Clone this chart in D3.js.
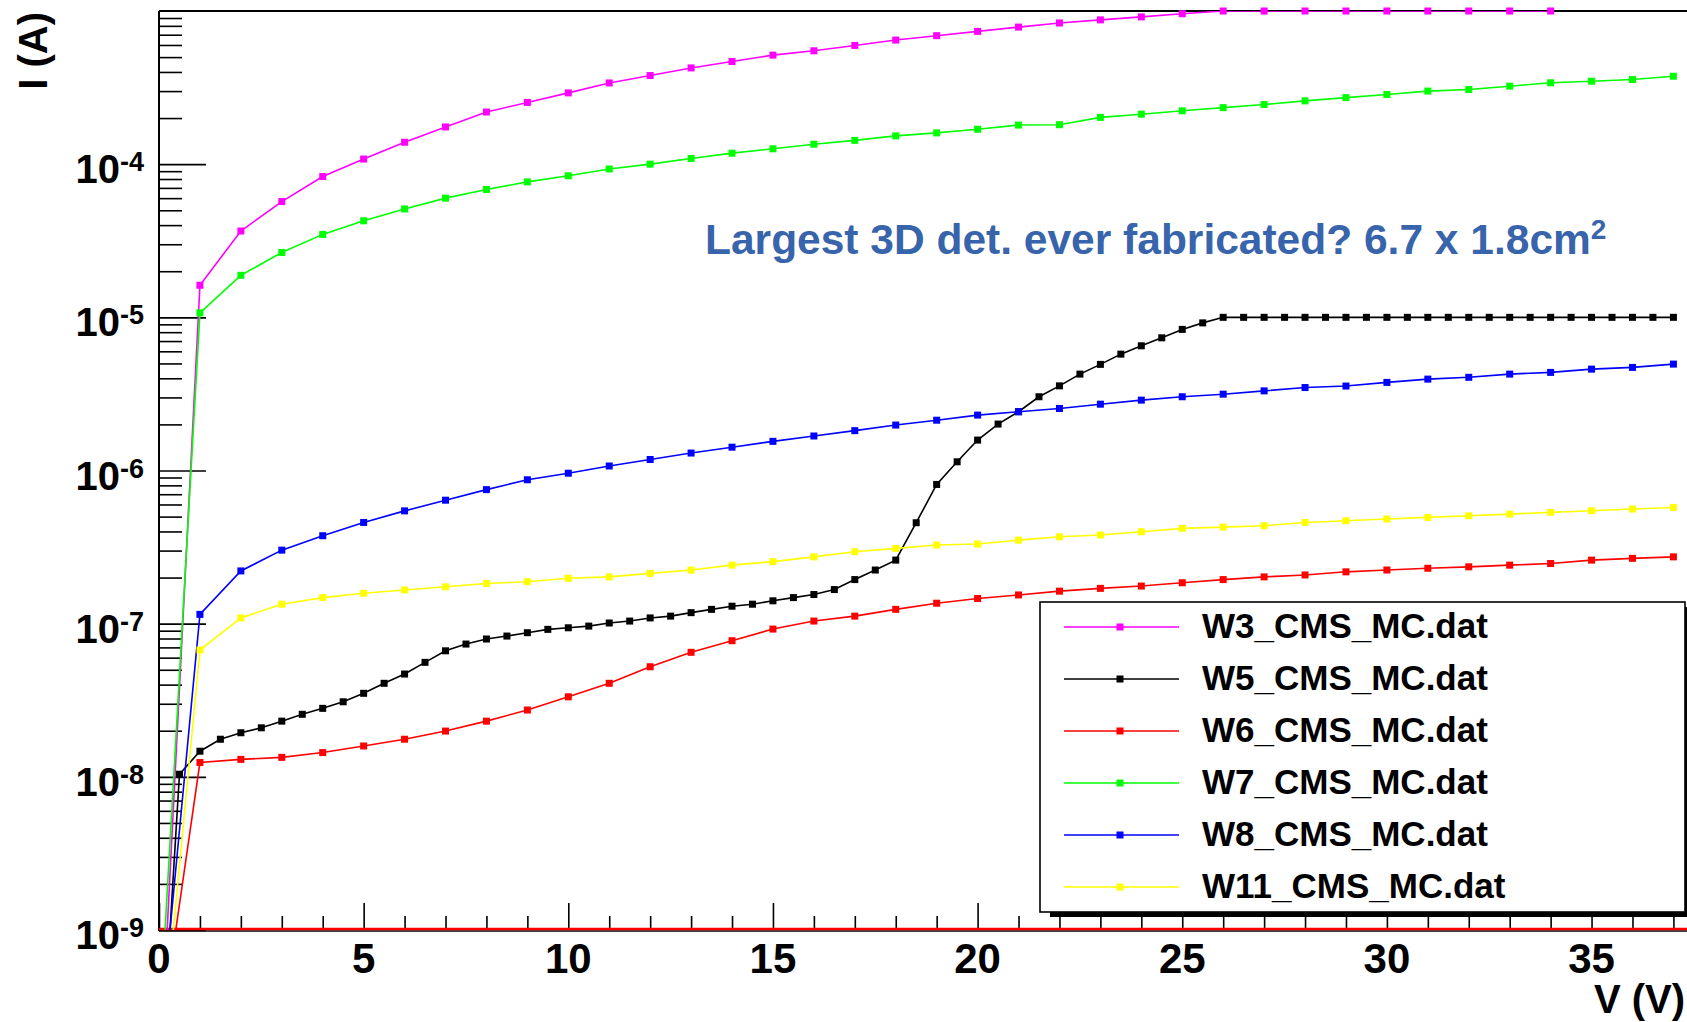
<!DOCTYPE html>
<html>
<head>
<meta charset="utf-8">
<script src="https://cdn.jsdelivr.net/npm/d3@7"></script>
<style>
body { margin: 0; background: #fff; }
text { font-family: "Liberation Sans", Arial, Helvetica, sans-serif; font-weight: bold; }
</style>
</head>
<body>
<script>
// voltage grids (V)
var volts = [0,1,2,3,4,5,6,7,8,9,10,11,12,13,14,15,16,17,18,19,20,21,22,23,24,25,26,27,28,29,30,31,32,33,34,35,36,37];
var voltsW3 = [0,1,2,3,4,5,6,7,8,9,10,11,12,13,14,15,16,17,18,19,20,21,22,23,24,25,26,27,28,29,30,31,32,33,34];
var voltsW5 = [0,0.5,1,1.5,2,2.5,3,3.5,4,4.5,5,5.5,6,6.5,7,7.5,8,8.5,9,9.5,10,10.5,11,11.5,12,12.5,13,13.5,14,14.5,
  15,15.5,16,16.5,17,17.5,18,18.5,19,19.5,20,20.5,21,21.5,22,22.5,23,23.5,24,24.5,25,25.5,26,26.5,27,27.5,28,28.5,
  29,29.5,30,30.5,31,31.5,32,32.5,33,33.5,34,34.5,35,35.5,36,36.5,37];

// currents (A)
var iW3 = [8.9e-11,1.62e-5,3.66e-5,5.7e-5,8.3e-5,1.08e-4,1.39e-4,1.75e-4,2.19e-4,2.53e-4,2.92e-4,3.39e-4,3.79e-4,
  4.25e-4,4.68e-4,5.15e-4,5.5e-4,5.96e-4,6.46e-4,6.9e-4,7.36e-4,7.85e-4,8.35e-4,8.75e-4,9.15e-4,9.6e-4,
  1e-3,1e-3,1e-3,1e-3,1e-3,1e-3,1e-3,1e-3,1e-3];
var iW5 = [6.6e-11,1.04e-8,1.47e-8,1.76e-8,1.94e-8,2.09e-8,2.31e-8,2.56e-8,2.8e-8,3.09e-8,3.51e-8,4.08e-8,4.69e-8,
  5.59e-8,6.65e-8,7.36e-8,7.94e-8,8.3e-8,8.73e-8,9.18e-8,9.4e-8,9.64e-8,1.01e-7,1.04e-7,1.09e-7,1.12e-7,1.18e-7,
  1.24e-7,1.30e-7,1.34e-7,1.41e-7,1.48e-7,1.55e-7,1.67e-7,1.94e-7,2.24e-7,2.6e-7,4.56e-7,8.11e-7,1.14e-6,1.58e-6,
  2.01e-6,2.42e-6,3.03e-6,3.57e-6,4.26e-6,4.93e-6,5.75e-6,6.52e-6,7.35e-6,8.34e-6,9.2e-6,
  1e-5,1e-5,1e-5,1e-5,1e-5,1e-5,1e-5,1e-5,1e-5,1e-5,1e-5,1e-5,1e-5,1e-5,1e-5,1e-5,1e-5,1e-5,1e-5,1e-5,1e-5,1e-5,1e-5];
var iW6 = [1.74e-10,1.24e-8,1.30e-8,1.34e-8,1.44e-8,1.59e-8,1.76e-8,1.99e-8,2.31e-8,2.73e-8,3.33e-8,4.08e-8,5.23e-8,
  6.5e-8,7.74e-8,9.22e-8,1.04e-7,1.12e-7,1.24e-7,1.36e-7,1.46e-7,1.54e-7,1.63e-7,1.70e-7,1.76e-7,1.85e-7,1.94e-7,
  2.02e-7,2.08e-7,2.18e-7,2.24e-7,2.3e-7,2.35e-7,2.41e-7,2.47e-7,2.6e-7,2.67e-7,2.73e-7];
var iW7 = [2.0e-10,1.07e-5,1.88e-5,2.65e-5,3.48e-5,4.27e-5,5.1e-5,6.0e-5,6.84e-5,7.66e-5,8.4e-5,9.3e-5,1.0e-4,
  1.09e-4,1.18e-4,1.26e-4,1.35e-4,1.43e-4,1.53e-4,1.6e-4,1.69e-4,1.8e-4,1.81e-4,2.02e-4,2.12e-4,2.23e-4,2.34e-4,
  2.45e-4,2.59e-4,2.72e-4,2.85e-4,3.0e-4,3.07e-4,3.23e-4,3.4e-4,3.48e-4,3.57e-4,3.75e-4];
var iW8 = [1.74e-10,1.15e-7,2.21e-7,3.02e-7,3.75e-7,4.58e-7,5.45e-7,6.4e-7,7.5e-7,8.7e-7,9.6e-7,1.07e-6,1.18e-6,
  1.3e-6,1.42e-6,1.55e-6,1.68e-6,1.82e-6,1.98e-6,2.13e-6,2.3e-6,2.42e-6,2.54e-6,2.71e-6,2.88e-6,3.03e-6,3.15e-6,
  3.31e-6,3.48e-6,3.56e-6,3.76e-6,3.95e-6,4.06e-6,4.26e-6,4.37e-6,4.59e-6,4.71e-6,4.95e-6];
var iW11 = [1.05e-10,6.73e-8,1.09e-7,1.34e-7,1.48e-7,1.58e-7,1.66e-7,1.74e-7,1.83e-7,1.88e-7,1.98e-7,2.02e-7,2.13e-7,
  2.24e-7,2.41e-7,2.54e-7,2.73e-7,2.95e-7,3.1e-7,3.26e-7,3.31e-7,3.51e-7,3.69e-7,3.79e-7,3.98e-7,4.19e-7,4.27e-7,
  4.36e-7,4.58e-7,4.7e-7,4.82e-7,4.94e-7,5.06e-7,5.19e-7,5.33e-7,5.46e-7,5.6e-7,5.74e-7];

var seriesNames = ["W3_CMS_MC.dat", "W5_CMS_MC.dat", "W6_CMS_MC.dat", "W7_CMS_MC.dat", "W8_CMS_MC.dat", "W11_CMS_MC.dat"];
var seriesColors = ["#ff00ff", "#000000", "#ff0000", "#00ff00", "#0000ff", "#ffff00"];
var seriesX = [voltsW3, voltsW5, volts, volts, volts, volts];
var seriesY = [iW3, iW5, iW6, iW7, iW8, iW11];

var xMajorTicks = [0, 5, 10, 15, 20, 25, 30, 35, 40];
var xTickLabels = [0, 5, 10, 15, 20, 25, 30, 35];
var yDecades = [-9, -8, -7, -6, -5, -4];

var width = 1687, height = 1022;
var svg = d3.select("body").append("svg")
    .attr("width", width)
    .attr("height", height)
    .style("display", "block");
svg.append("rect").attr("width", width).attr("height", height).attr("fill", "#fff");

var x = d3.scaleLinear().domain([0, 40]).range([159, 159 + 40 * 40.93]);
var y = d3.scaleLog().domain([1e-9, 1e-3]).range([930, 11]);

// lines are clipped at the frame, markers may overhang the top edge
svg.append("clipPath").attr("id", "plotclip")
  .append("rect").attr("x", x(0)).attr("y", y(1e-3)).attr("width", x(40) - x(0)).attr("height", y(1e-9) - y(1e-3));
svg.append("clipPath").attr("id", "markclip")
  .append("rect").attr("x", x(0)).attr("y", y(1e-3) - 5).attr("width", x(40) - x(0)).attr("height", y(1e-9) - y(1e-3) + 5);

// ticks: y axis inward
var yMinor = [];
yDecades.forEach(function(e) {
    for (var k = 2; k <= 9; k++) yMinor.push(k * Math.pow(10, e));
});
svg.append("g").attr("transform", "translate(" + x(0) + ",0)")
    .call(d3.axisRight(y).tickValues(yDecades.map(function(e){ return Math.pow(10, e); })).tickSize(47).tickFormat(""))
    .call(function(g){ g.select(".domain").remove(); g.selectAll("line").style("stroke-width", 1.6); });
svg.append("g").attr("transform", "translate(" + x(0) + ",0)")
    .call(d3.axisRight(y).tickValues(yMinor).tickSize(23).tickFormat(""))
    .call(function(g){ g.select(".domain").remove(); g.selectAll("line").style("stroke-width", 1.6); });

// ticks: x axis inward
var xMinor = d3.range(0, 41).filter(function(v){ return v % 5 !== 0; });
svg.append("g").attr("transform", "translate(0," + y(1e-9) + ")")
    .call(d3.axisTop(x).tickValues(xMajorTicks).tickSize(27).tickFormat(""))
    .call(function(g){ g.select(".domain").remove(); g.selectAll("line").style("stroke-width", 1.6); });
svg.append("g").attr("transform", "translate(0," + y(1e-9) + ")")
    .call(d3.axisTop(x).tickValues(xMinor).tickSize(14).tickFormat(""))
    .call(function(g){ g.select(".domain").remove(); g.selectAll("line").style("stroke-width", 1.6); });

// frame
svg.append("line").attr("x1", x(0)).attr("x2", x(0)).attr("y1", y(1e-3)).attr("y2", y(1e-9) + 1)
    .style("stroke", "#000").style("stroke-width", 2);
svg.append("line").attr("x1", x(0)).attr("x2", width).attr("y1", y(1e-3)).attr("y2", y(1e-3))
    .style("stroke", "#000").style("stroke-width", 2);
svg.append("line").attr("x1", x(0)).attr("x2", width).attr("y1", y(1e-9) + 1).attr("y2", y(1e-9) + 1)
    .style("stroke", "#000").style("stroke-width", 1.6);

// red floor line along 1e-9
svg.append("line")
    .attr("x1", x(0)).attr("x2", x(40))
    .attr("y1", y(1e-9) - 1).attr("y2", y(1e-9) - 1)
    .style("stroke", "#ff0000").style("stroke-width", 2.5);

// series
var line = d3.line()
    .x(function(d){ return x(d[0]); })
    .y(function(d){ return y(d[1]); });

var plot = svg.append("g").attr("clip-path", "url(#plotclip)");
var marks = svg.append("g").attr("clip-path", "url(#markclip)");
seriesNames.forEach(function(name, i) {
    var pts = seriesX[i].map(function(v, j){ return [v, seriesY[i][j]]; });
    plot.append("path")
        .datum(pts)
        .attr("d", line)
        .style("fill", "none")
        .style("stroke", seriesColors[i])
        .style("stroke-width", 1.6);
    marks.selectAll(".m" + i)
        .data(pts.filter(function(d){ return d[1] >= 1e-9; }))
        .enter()
        .append("rect")
        .attr("class", "m" + i)
        .attr("x", function(d){ return x(d[0]) - 3.5; })
        .attr("y", function(d){ return y(d[1]) - 3.5; })
        .attr("width", 7)
        .attr("height", 7)
        .style("fill", seriesColors[i]);
});

// y tick labels
yDecades.forEach(function(e) {
    var t = svg.append("text")
        .attr("x", 144)
        .attr("y", y(Math.pow(10, e)) + 19)
        .attr("text-anchor", "end")
        .style("fill", "#000");
    t.append("tspan").style("font-size", "40px").text("10");
    t.append("tspan").style("font-size", "27px").attr("dy", -12).text(String(e));
});

// x tick labels
svg.selectAll(".xl")
    .data(xTickLabels)
    .enter()
    .append("text")
    .attr("class", "xl")
    .attr("x", function(d){ return x(d); })
    .attr("y", 973)
    .attr("text-anchor", "middle")
    .style("font-size", "42px")
    .text(function(d){ return d; });

// axis titles
svg.append("text")
    .attr("transform", "translate(47,12) rotate(-90)")
    .attr("text-anchor", "end")
    .style("font-size", "40px")
    .text("I (A)");
svg.append("text")
    .attr("x", 1685)
    .attr("y", 1013)
    .attr("text-anchor", "end")
    .style("font-size", "40px")
    .text("V (V)");

// annotation
var note = svg.append("text")
    .attr("x", 705)
    .attr("y", 254)
    .style("font-size", "42.5px")
    .style("fill", "#3864ac");
note.append("tspan").text("Largest 3D det. ever fabricated? 6.7 x 1.8cm");
note.append("tspan").attr("dy", -15).style("font-size", "28px").text("2");

// legend
var lg = { x: 1040, y: 602, w: 645, h: 310 };
svg.append("rect").attr("x", lg.x + 10).attr("y", lg.y + 5).attr("width", lg.w).attr("height", lg.h).style("fill", "#000");
svg.append("rect").attr("x", lg.x).attr("y", lg.y).attr("width", lg.w).attr("height", lg.h)
    .style("fill", "#fff").style("stroke", "#000").style("stroke-width", 1.6);
seriesNames.forEach(function(name, i) {
    var cy = 627 + i * 52;
    svg.append("line").attr("x1", 1064).attr("x2", 1179).attr("y1", cy).attr("y2", cy)
        .style("stroke", seriesColors[i]).style("stroke-width", 1.6);
    svg.append("rect").attr("x", 1120 - 3.5).attr("y", cy - 3.5).attr("width", 7).attr("height", 7)
        .style("fill", seriesColors[i]);
    svg.append("text").attr("x", 1202).attr("y", cy + 11)
        .style("font-size", "35px")
        .text(name);
});
</script>
</body>
</html>
